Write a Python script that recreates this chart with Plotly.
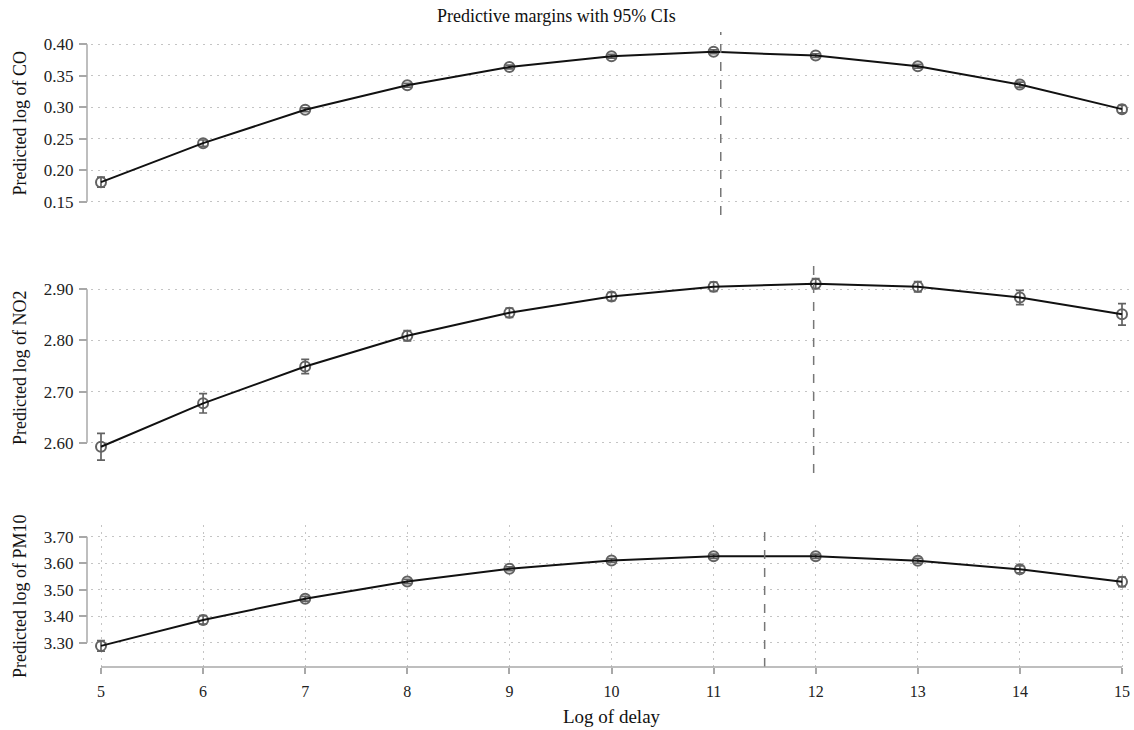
import plotly.graph_objects as go

W, H = 1134, 730

# ---------------- data ----------------
delay = [5, 6, 7, 8, 9, 10, 11, 12, 13, 14, 15]
x_ticks = [5, 6, 7, 8, 9, 10, 11, 12, 13, 14, 15]

co_mean = [0.181, 0.243, 0.296, 0.335, 0.364, 0.381, 0.388, 0.382, 0.365, 0.336, 0.297]
co_err = [0.008, 0.005, 0.003, 0.003, 0.003, 0.003, 0.003, 0.003, 0.003, 0.004, 0.006]
co_ticks = [0.15, 0.20, 0.25, 0.30, 0.35, 0.40]
co_turn = 11.07

no2_mean = [2.592, 2.677, 2.749, 2.809, 2.854, 2.886, 2.905, 2.911, 2.905, 2.884, 2.851]
no2_err = [0.026, 0.019, 0.014, 0.010, 0.009, 0.008, 0.009, 0.010, 0.010, 0.014, 0.021]
no2_ticks = [2.60, 2.70, 2.80, 2.90]
no2_turn = 11.98

pm10_mean = [3.288, 3.386, 3.466, 3.531, 3.579, 3.610, 3.626, 3.626, 3.609, 3.577, 3.530]
pm10_err = [0.020, 0.016, 0.009, 0.008, 0.007, 0.007, 0.008, 0.008, 0.009, 0.013, 0.018]
pm10_ticks = [3.30, 3.40, 3.50, 3.60, 3.70]
pm10_turn = 11.5

titles = ["Predicted log of CO", "Predicted log of NO2", "Predicted log of PM10"]

# ---------------- layout geometry (pixels) ----------------
FONT = "Liberation Serif, Times New Roman, serif"
GRID = "#c4c4c4"
AXC = "#a8a8a8"
MK = "#626262"
GRIDDASH = "2px,5px"

def px_x(p):
    return p / W

def px_y(p):
    return 1 - p / H

plot_left, plot_right = 91, 1134
rows = [(32, 215), (263, 473), (525, 667)]
yranges = [[0.1289, 0.4195], [2.5407, 2.9514], [3.2083, 3.7442]]
ppu = (1122 - 101) / 10.0
xr = [5 - (101 - plot_left) / ppu, 15 + (plot_right - 1122) / ppu]

series = [
    (co_mean, co_err, co_ticks, co_turn),
    (no2_mean, no2_err, no2_ticks, no2_turn),
    (pm10_mean, pm10_err, pm10_ticks, pm10_turn),
]

fig = go.Figure()
shapes = []
annotations = []
layout = dict()

for i, (mean, err, ticks, turn) in enumerate(series):
    n = i + 1
    xa = "x" if n == 1 else f"x{n}"
    ya = "y" if n == 1 else f"y{n}"
    xkey = "xaxis" if n == 1 else f"xaxis{n}"
    ykey = "yaxis" if n == 1 else f"yaxis{n}"
    top, bot = rows[i]
    is_bottom = (n == 3)

    fig.add_trace(go.Scatter(
        x=delay, y=mean, mode="markers", xaxis=xa, yaxis=ya,
        marker=dict(symbol="circle-open", size=10, color=MK, line=dict(width=2, color=MK)),
        error_y=dict(type="data", array=err, visible=True, color=MK, thickness=1.7, width=4),
        showlegend=False, hoverinfo="skip"))
    fig.add_trace(go.Scatter(
        x=delay, y=mean, mode="lines", xaxis=xa, yaxis=ya,
        line=dict(color="#111111", width=2),
        showlegend=False, hoverinfo="skip"))

    layout[xkey] = dict(
        domain=[px_x(plot_left), 1.0], range=xr, anchor=ya,
        showgrid=is_bottom, gridcolor=GRID, griddash=GRIDDASH, gridwidth=1,
        zeroline=False, showline=False,
        tickmode="array", tickvals=x_ticks if is_bottom else [],
        ticktext=[str(t) for t in x_ticks] if is_bottom else [],
        showticklabels=is_bottom,
        ticks="outside" if is_bottom else "", ticklen=6, tickcolor=AXC, tickwidth=1.5,
        ticklabelstandoff=4,
        tickfont=dict(family=FONT, size=16, color="#222222"),
    )
    if n != 1:
        layout[xkey]["matches"] = "x"
    layout[ykey] = dict(
        domain=[px_y(bot), px_y(top)], range=yranges[i], anchor="free", position=px_x(87),
        showgrid=True, gridcolor=GRID, griddash=GRIDDASH, gridwidth=1,
        zeroline=False, showline=False,
        tickmode="array", tickvals=ticks, ticktext=[f"{t:.2f}" for t in ticks],
        ticks="outside", ticklen=8, tickcolor=AXC, tickwidth=1.5,
        ticklabelstandoff=2,
        tickfont=dict(family=FONT, size=17, color="#222222"),
    )

    shapes.append(dict(type="line", xref="paper", yref=ya,
                       x0=px_x(87), x1=px_x(87), y0=min(ticks), y1=max(ticks),
                       line=dict(color=AXC, width=1.5)))
    shapes.append(dict(type="line", xref=xa, yref=f"{ya} domain",
                       x0=turn, x1=turn, y0=0, y1=1,
                       line=dict(color="#777777", width=1.5, dash="dash")))
    annotations.append(dict(text=titles[i], xref="paper", yref="paper",
                            x=px_x(20), y=px_y((top + bot) / 2), textangle=-90,
                            showarrow=False, xanchor="center", yanchor="middle",
                            font=dict(family=FONT, size=18, color="#111111")))

shapes.append(dict(type="line", xref="x3", yref="paper",
                   x0=min(x_ticks), x1=max(x_ticks), y0=px_y(667), y1=px_y(667),
                   line=dict(color=AXC, width=1.5)))

annotations.append(dict(text="Predictive margins with 95% CIs", xref="paper", yref="paper",
                        x=px_x(556), y=px_y(16), showarrow=False,
                        xanchor="center", yanchor="middle",
                        font=dict(family=FONT, size=18, color="#111111")))
annotations.append(dict(text="Log of delay", xref="paper", yref="paper",
                        x=px_x(612), y=px_y(716), showarrow=False,
                        xanchor="center", yanchor="middle",
                        font=dict(family=FONT, size=19, color="#111111")))

fig.update_layout(
    width=W, height=H,
    margin=dict(l=0, r=0, t=0, b=0),
    paper_bgcolor="white", plot_bgcolor="white",
    shapes=shapes, annotations=annotations,
    **layout,
)

fig.write_html("out.html", config={"displayModeBar": False},
               post_script="document.body.style.margin='0';document.body.style.overflow='hidden';")
